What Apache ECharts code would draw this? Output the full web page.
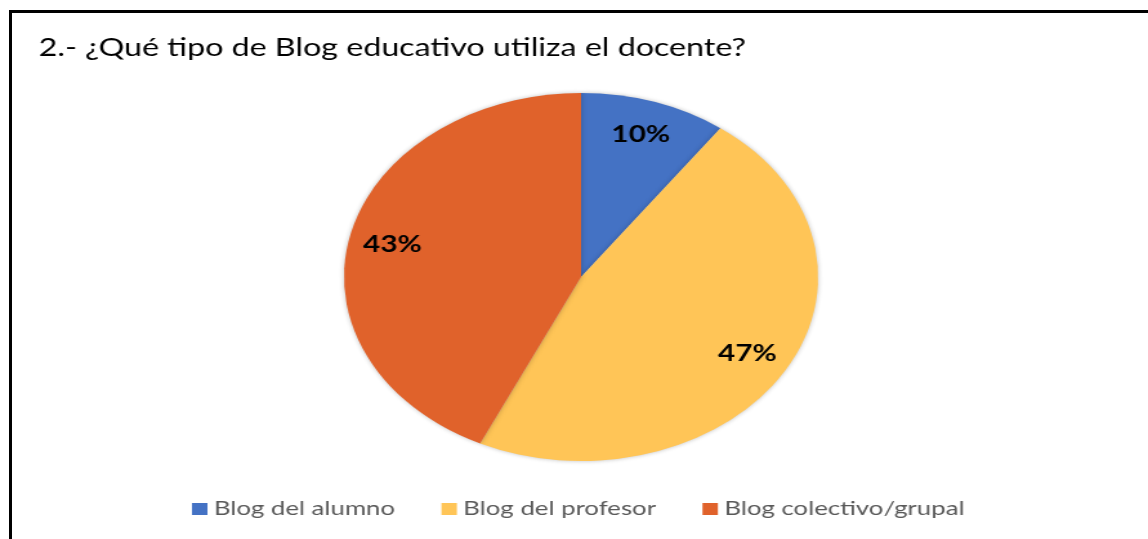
<!DOCTYPE html>
<html>
<head>
<meta charset="utf-8">
<script src="https://cdn.jsdelivr.net/npm/echarts@6/dist/echarts.min.js"></script>
<style>
  html, body { margin: 0; padding: 0; background: #fff; overflow: hidden; }
  #wrap { position: relative; width: 1148px; height: 539px; overflow: hidden; }
  #frame { position: absolute; left: 9px; top: 10px; right: -10px; bottom: -10px;
           border-top: 3px solid #000; border-left: 3px solid #000; }
  /* the source picture is stretched sideways, so the chart is drawn narrow and widened */
  #chart { position: absolute; left: 0; top: 0; width: 891px; height: 539px;
           transform: scaleX(1.2884); transform-origin: 0 0; }
</style>
</head>
<body>
<div id="wrap">
  <div id="chart"></div>
  <div id="frame"></div>
</div>
<script>
const titleText = '2.- ¿Qué tipo de Blog educativo utiliza el docente?'
const categories = ['Blog del alumno', 'Blog del profesor', 'Blog colectivo/grupal']
const values = [10, 47, 43]
const colors = ['#4472C4', '#FFC557', '#E0622B']

const pieData = categories.map((name, i) => ({ name, value: values[i], itemStyle: { color: colors[i] } }))

const chart = echarts.init(document.getElementById('chart'), null, { renderer: 'canvas' })
chart.setOption({
  animation: false,
  title: {
    text: titleText,
    left: 25,
    top: 30,
    textStyle: { fontFamily: 'Lato', fontSize: 25, fontWeight: 'normal', color: '#000' }
  },
  legend: {
    data: categories,
    left: 144,
    top: 494,
    itemWidth: 12,
    itemHeight: 12,
    itemGap: 36,
    itemStyle: { borderWidth: 0 },
    icon: 'rect',
    textStyle: { fontFamily: 'Lato', fontSize: 20, color: '#595959' }
  },
  series: [
    {
      type: 'pie',
      center: [451, 277],
      radius: [0, 184],
      startAngle: 90,
      clockwise: true,
      label: { show: false },
      labelLine: { show: false },
      itemStyle: { shadowBlur: 4, shadowColor: 'rgba(0,0,0,0.25)' },
      emphasis: { disabled: true },
      data: pieData
    },
    {
      // invisible twin pie, only to place the percent labels further out
      type: 'pie',
      center: [451, 277],
      radius: [0, 294],
      startAngle: 90,
      silent: true,
      itemStyle: { color: 'rgba(0,0,0,0)' },
      label: {
        show: true,
        position: 'inside',
        formatter: '{c}%',
        fontFamily: 'Lato',
        fontSize: 23,
        fontWeight: 'bold',
        color: '#000'
      },
      labelLine: { show: false },
      emphasis: { disabled: true },
      data: categories.map((name, i) => ({ name, value: values[i] }))
    }
  ]
})
</script>
</body>
</html>
